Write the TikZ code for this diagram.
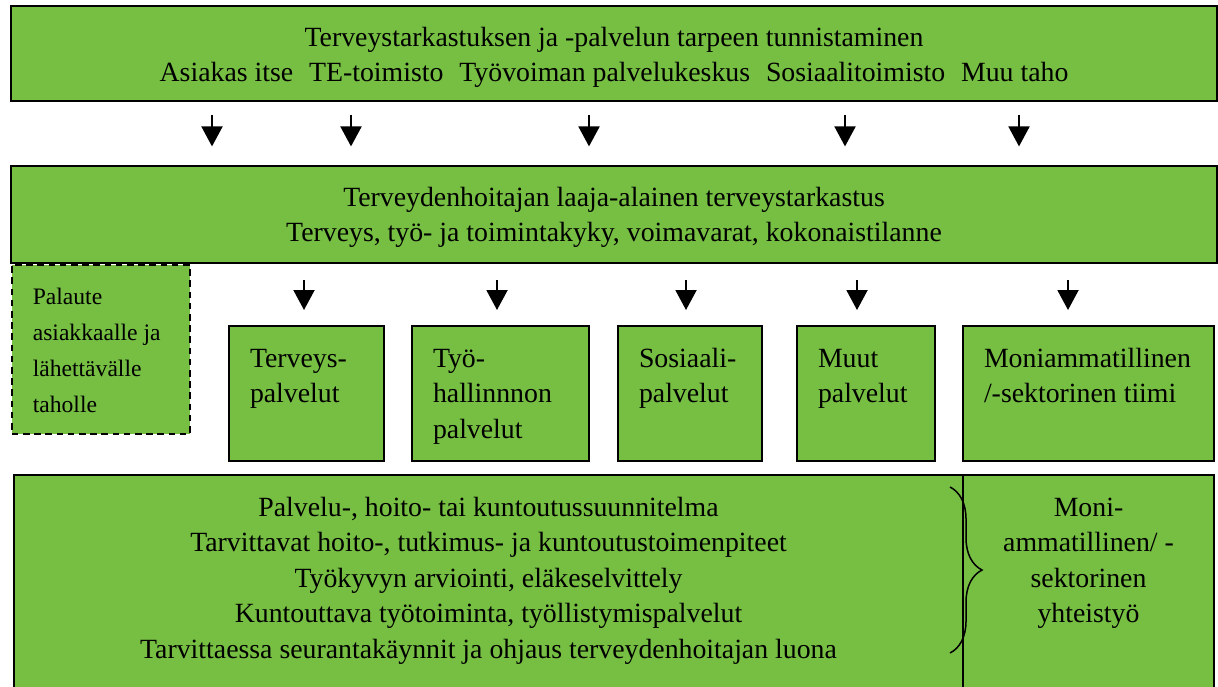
\documentclass[tikz,border=0pt]{standalone}
\usepackage{fontspec}
\setmainfont{Liberation Serif}
\usetikzlibrary{arrows.meta,decorations.pathreplacing}
\definecolor{vihrea}{RGB}{118,191,67}
\hyphenpenalty=10000

\begin{document}
\begin{tikzpicture}[x=0.5pt,y=-0.5pt,
    every node/.style={font=\fontsize{13.9}{17.75}\selectfont},
    laatikko/.style={draw,line width=1pt,fill=vihrea,inner sep=0pt},
    leveä/.style={laatikko,anchor=north west,align=flush center,text width=603pt,
      text height=20pt},
    palvelu/.style={laatikko,anchor=north west,align=flush left,inner xsep=10.5pt,
      text height=20.5pt,text depth=47pt},
    nuoli/.style={line width=1pt,-{Triangle[width=10.5pt,length=10pt]}}]
  \useasboundingbox (0,0) rectangle (1218,686);
  \clip (0,0) rectangle (1218,686);

  % ylin laatikko
  \node[leveä,text depth=27.5pt] (tunnistus) at (10,5)
    {Terveystarkastuksen ja -palvelun tarpeen tunnistaminen\\
     Asiakas itse\ \ \hspace{1pt}TE-toimisto\ \ \hspace{1pt}Ty\"ovoiman palvelukeskus\ \ \hspace{1pt}Sosiaalitoimisto\ \ \hspace{1pt}Muu taho};

  \node[laatikko,dashed,dash pattern=on 3.3pt off 2.3pt,line width=0.8pt,anchor=north west,
    align=flush left,inner xsep=10.5pt,text width=68pt,text height=20pt,text depth=64.5pt,
    font=\fontsize{11.8}{18}\selectfont] (palaute) at (11,264)
    {Palaute\\asiakkaalle ja\\l\"ahett\"av\"alle\\taholle};

  \node[leveä,text depth=28.5pt] (tarkastus) at (10,165)
    {Terveydenhoitajan laaja-alainen terveystarkastus\\
     Terveys, ty\"o- ja toimintakyky, voimavarat, kokonaistilanne};

  % palvelut
  \node[palvelu,text width=56.5pt] (terveys) at (228,325) {Terveys-\\palvelut};
  \node[palvelu,text width=67.5pt] (tyo) at (411,325) {Ty\"o-\\hallinnnon\\palvelut};
  \node[palvelu,text width=51pt] (sosiaali) at (617,325) {Sosiaali-\\palvelut};
  \node[palvelu,text width=48pt] (muut) at (796,325) {Muut\\palvelut};
  \node[palvelu,text width=104.5pt] (moni) at (962,325) {Moniammatillinen\\/-sektorinen tiimi};

  % alin rivi
  \node[laatikko,anchor=north west,align=flush center,text width=474.5pt,text height=20.5pt,text depth=92.5pt]
    (suunnitelma) at (13,474)
    {Palvelu-, hoito- tai kuntoutussuunnitelma\\
     Tarvittavat hoito-, tutkimus- ja kuntoutustoimenpiteet\\
     Ty\"okyvyn arviointi, el\"akeselvittely\\
     Kuntouttava ty\"otoiminta, ty\"ollistymispalvelut\\
     Tarvittaessa seurantak\"aynnit ja ohjaus terveydenhoitajan luona};
  \node[laatikko,anchor=north west,align=flush center,text width=125.5pt,text height=20.5pt,text depth=92.5pt]
    (yhteistyo) at (962,474)
    {Moni-\\ammatillinen/ -\\sektorinen\\yhteisty\"o};

  \draw[line width=0.75pt,decorate,decoration={brace,amplitude=16pt}] (950,487) -- (950,653);

  % nuolet
  \foreach \x [count=\i] in {212,351,589,845,1019}{
    \coordinate (y\i) at (\x,0);
    \draw[nuoli,shorten <=6.3pt,shorten >=9.3pt] (tunnistus.south -| y\i) -- (tarkastus.north -| y\i);
  }
  \foreach \x/\kohde in {304/terveys,497/tyo,686/sosiaali,857/muut,1068/moni}{
    \coordinate (k\kohde) at (\x,0);
    \draw[nuoli,shorten <=8pt,shorten >=7.5pt] (tarkastus.south -| k\kohde) -- (\kohde.north -| k\kohde);
  }
\end{tikzpicture}
\end{document}
